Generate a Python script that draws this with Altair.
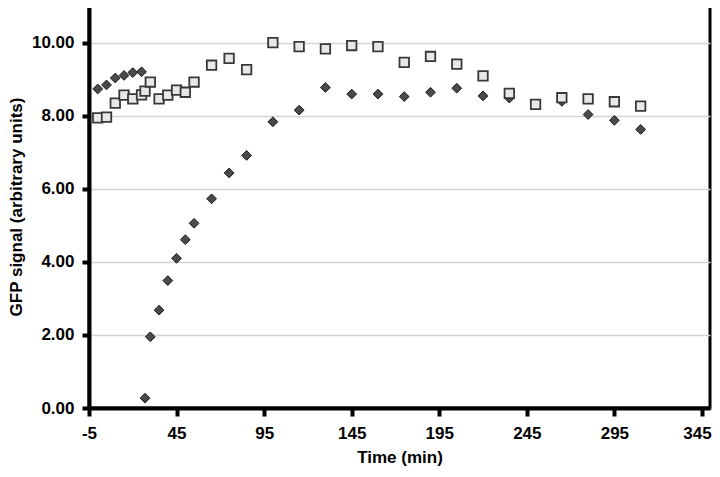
import altair as alt
import pandas as pd

times = [0, 5, 10, 15, 20, 25, 27, 30, 35, 40, 45, 50, 55, 65, 75, 85,
         100, 115, 130, 145, 160, 175, 190, 205, 220, 235, 250, 265, 280, 295, 310]
diamond_vals = [8.74, 8.85, 9.04, 9.11, 9.19, 9.21, 0.27, 1.95, 2.68, 3.49, 4.10, 4.61, 5.06,
                5.73, 6.44, 6.92, 7.84, 8.16, 8.78, 8.60, 8.60, 8.53, 8.65, 8.76, 8.55,
                8.49, 8.33, 8.40, 8.04, 7.88, 7.63]
square_vals = [7.95, 7.97, 8.35, 8.57, 8.47, 8.58, 8.68, 8.93, 8.47, 8.57, 8.71, 8.65, 8.93,
               9.39, 9.58, 9.27, 10.01, 9.90, 9.84, 9.93, 9.90, 9.47, 9.63, 9.42, 9.10,
               8.62, 8.32, 8.50, 8.47, 8.39, 8.27]
x_ticks = [-5, 45, 95, 145, 195, 245, 295, 345]
y_ticks = [0, 2, 4, 6, 8, 10]

df_d = pd.DataFrame({"t": times, "v": diamond_vals})
df_s = pd.DataFrame({"t": times, "v": square_vals})

font = "Liberation Sans"

x = alt.X("t:Q", scale=alt.Scale(domain=[-5, 349.6], nice=False, zero=False),
          axis=alt.Axis(values=x_ticks, labelExpr="datum.value + ''", title="Time (min)",
                        grid=False,
                        domainWidth=4, domainColor="black", tickWidth=4, tickColor="black",
                        tickSize=8, labelPadding=9, labelFontSize=17, labelFontWeight="bold",
                        labelOffset=alt.expr("datum.value == 345 ? -5 : 0"),
                        labelFont=font, labelColor="black", titleFont=font, titleFontSize=17,
                        titleFontWeight="bold", titleColor="black", titlePadding=8,
                        labelFlush=False, labelOverlap=False))
y = alt.Y("v:Q", scale=alt.Scale(domain=[0, 11.04], nice=False),
          axis=alt.Axis(values=y_ticks, format=".2f", title="GFP signal (arbitrary units)",
                        grid=True, gridColor="#d4d4d4", gridWidth=1.5,
                        domainWidth=4, domainColor="black", tickWidth=4, tickColor="black",
                        tickSize=7, labelPadding=8, labelFontSize=17, labelFontWeight="bold",
                        labelFont=font, labelColor="black", titleFont=font, titleFontSize=17,
                        titleFontWeight="bold", titleColor="black", titlePadding=6))

diamonds = alt.Chart(df_d).mark_point(shape="diamond", filled=True, fill="#4a4a4a",
                                      stroke="#1a1a1a", strokeWidth=1, size=95,
                                      opacity=1).encode(x=x, y=y)
squares = alt.Chart(df_s).mark_point(shape="square", filled=True, fill="#e8e8e8",
                                     stroke="#383838", strokeWidth=1.8, size=90,
                                     opacity=1).encode(x=x, y=y)

chart = alt.layer(diamonds, squares).properties(
    width=621, height=403,
    autosize=alt.AutoSizeParams(type="none"),
    padding={"left": 81, "top": -3, "right": 2, "bottom": 61},
    background="white",
).configure_view(stroke="black", strokeWidth=3)

chart.save("out.html", embed_options={"renderer": "svg", "actions": False})
